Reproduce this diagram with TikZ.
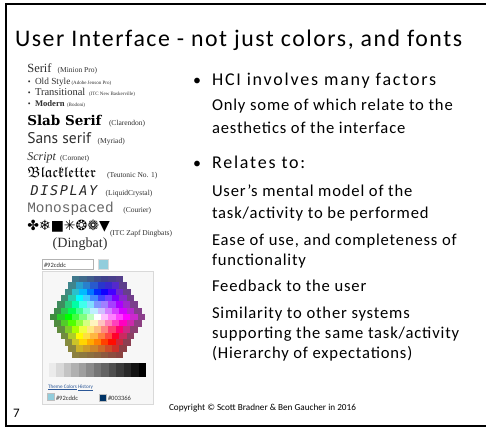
\documentclass[tikz,border=0pt]{standalone}
\usepackage{amsfonts}
\usepackage{fontspec}
\setmainfont{Carlito}
\newfontfamily\titlefont{Carlito}[LetterSpace=6.5]
\newfontfamily\bulletfont{Carlito}[LetterSpace=10]
\newfontfamily\bodyfont{Carlito}[LetterSpace=5]
\newfontfamily\serifsample{Liberation Serif}
\newfontfamily\slabsample{DejaVu Serif}
\newfontfamily\sanssample{PT Sans}
\newfontfamily\monosample{Liberation Mono}
\newfontfamily\lcdsample{DejaVu Sans Mono}[LetterSpace=12]
\newfontfamily\symsample{DejaVu Sans}
\newcommand\fsz[1]{\fontsize{#1}{#1}\selectfont}

\definecolor{pickblue}{HTML}{92CDDC}
\definecolor{picknavy}{HTML}{003366}
\definecolor{linkblue}{HTML}{2B5797}
\definecolor{samplegray}{HTML}{2E2E2E}

\tikzset{
  txt/.style={anchor=base west, inner sep=0pt, outer sep=0pt},
  sample/.style={txt, text=samplegray},
  note/.style={txt, text=samplegray, font=\serifsample\fsz{7.5}},
  tiny/.style={txt, text=samplegray, font=\serifsample\fsz{5}},
  bul/.style={txt, font=\bulletfont\fsz{18}},
  body/.style={txt, font=\bodyfont\fsz{16.6}},
  dot/.style={anchor=base, inner sep=0pt, font=\fsz{16}},
  smalldot/.style={anchor=base, inner sep=0pt, text=samplegray, font=\serifsample\fsz{8}},
  picktext/.style={txt, font=\fsz{6.5}, text=black!80},
  swatch/.style={draw=black!25, minimum width=7pt, minimum height=7pt, anchor=north west, inner sep=0pt},
}

\begin{document}
\begin{tikzpicture}[x=1pt, y=-1pt]
\useasboundingbox (0,0) rectangle (486,430);

% slide frame
\draw[line width=2pt] (490,4) -- (6,4) -- (6,426) -- (490,426);

% title
\node[txt, font=\titlefont\fsz{23.8}] (title) at (15,46.7) {User Interface - not just colors, and fonts};

% ---- type samples ----
\node[sample, font=\serifsample\fsz{12.5}] (serif) at (27.3,72.7) {Serif};
\node[note] (serifn) at (57.7,72.7) {(Minion Pro)};
\node[smalldot] (d1) at (29.3,84.3) {•};
\node[sample, font=\serifsample\fsz{9.3}] (old) at (35,84.3) {Old Style};
\node[tiny] (oldn) at (71.5,84.3) {(Adobe Jenson Pro)};
\node[smalldot] (d2) at (29.3,95.7) {•};
\node[sample, font=\serifsample\fsz{10.5}] (trans) at (35,95.7) {Transitional};
\node[tiny] (transn) at (89,95.7) {(ITC New Baskerville)};
\node[smalldot] (d3) at (29.3,106.7) {•};
\node[sample, font=\serifsample\bfseries\fsz{8.6}] (modern) at (35,106.7) {Modern};
\node[tiny] (modernn) at (67,106.7) {(Bodoni)};
\node[sample, text=black, font=\slabsample\bfseries\fsz{13.5}] (slab) at (27.3,126) {Slab Serif};
\node[note] (slabn) at (109,126) {(Clarendon)};
\node[sample, font=\sanssample\fsz{15.5}] (sans) at (27.3,143.3) {Sans serif};
\node[note] (sansn) at (97.7,143.3) {(Myriad)};
\node[sample, font=\serifsample\itshape\fsz{12}] (script) at (27.3,160.7) {Script};
\node[note] (scriptn) at (60,160.7) {(Coronet)};
\node[sample, text=black, font=\fsz{15}] (black) at (27.3,177.3) {$\mathfrak{Blackletter}$};
\node[note] (blackn) at (107,177.3) {(Teutonic No. 1)};
\node[sample, text=black!85, font=\lcdsample\itshape\fsz{13.5}] (lcd) at (30.7,195) {DISPLAY};
\node[note] (lcdn) at (105.7,195) {(LiquidCrystal)};
\node[sample, text=black!60, font=\monosample\fsz{14.4}] (mono) at (27.3,212.7) {Monospaced};
\node[note] (monon) at (123.3,212.7) {(Courier)};
\node[sample, text=black, font=\symsample\fsz{14}] (ding) at (27.3,230) {✤❄■✳❂❁▼};
\node[note] (dingn) at (110,235) {(ITC Zapf Dingbats)};
\node[sample, font=\serifsample\fsz{14.1}] (dingw) at (52.7,247) {(Dingbat)};

% ---- colour picker ----
\node[draw=black!30, fill=white, minimum width=51pt, minimum height=10pt, anchor=north west, inner sep=0pt] (hexbox) at (42,259) {};
\node[picktext] (hextxt) at (44,267) {\#92cddc};
\node[draw=black!15, fill=pickblue, minimum width=10pt, minimum height=10pt, anchor=north west, inner sep=0pt] (cur) at (98,259) {};
\node[draw=black!15, fill=black!3, minimum width=111pt, minimum height=133pt, anchor=north west, inner sep=0pt] (panel) at (42,271) {};

% honeycomb of colour cells
\def\cw{7.3}\def\rh{6.3}
\foreach \r in {0,...,12}{
  \pgfmathtruncatemacro\n{13-abs(\r-6)}
  \foreach \c in {1,...,\n}{
    \pgfmathsetmacro\dx{\c-1-(\n-1)/2}
    \pgfmathsetmacro\dy{\r-6}
    \pgfmathtruncatemacro\d{round(max(abs(\dy),abs(\dx)+abs(\dy)/2))}
    \pgfmathsetmacro\ang{atan2(-\dy*0.866,\dx)}
    \pgfmathsetmacro\a{mod(\ang+720,360)}
    \pgfmathtruncatemacro\k{min(floor(\a/45),7)}
    \pgfmathsetmacro\f{(\a-45*\k)/45}
    \pgfmathsetmacro\hA{{300,270,230,180,120,60,30,-10,-60}[\k]}
    \pgfmathsetmacro\hB{{300,270,230,180,120,60,30,-10,-60}[\k+1]}
    \pgfmathtruncatemacro\hue{mod(\hA+(\hB-\hA)*\f+720,360)}
    \definecolor{hx}{Hsb}{\hue,1,1}
    \ifnum\d<5
      \pgfmathtruncatemacro\p{\d*25}
      \colorlet{cell}{hx!\p!white}
    \else
      \ifnum\d=5 \colorlet{cell}{hx!80!black}\else\colorlet{cell}{hx!55!black}\fi
    \fi
    \pgfmathsetmacro\xl{97.5+(\dx-0.5)*\cw}
    \pgfmathsetmacro\yt{276+\r*\rh}
    \fill[cell] (\xl,\yt) rectangle ++(\cw+0.2,\rh+0.2);
  }
}

% grey scale strip
\foreach \g in {0,...,12}{
  \pgfmathtruncatemacro\p{8+\g*92/12}
  \fill[black!\p] ({49+\g*7.46},363) rectangle ++(7.66,14);
}

\node[txt, font=\fsz{5.2}, text=linkblue] (theme) at (48,388) {\underline{Theme Colors}};
\node[txt, font=\fsz{5.2}, text=linkblue] (hist) at (78,388) {\underline{History}};
\node[swatch, fill=pickblue] (sw1) at (47,393) {};
\node[picktext] (sw1t) at (56,400) {\#92cddc};
\node[swatch, fill=picknavy] (sw2) at (99,394) {};
\node[picktext] (sw2t) at (108,400.5) {\#003366};

% ---- bullet text ----
\node[dot] (b1) at (197,86) {•};
\node[bul] (hci) at (212,86) {HCI involves many factors};
\node[body] (l1) at (212,110.7) {Only some of which relate to the};
\node[body] (l2) at (212,134) {aesthetics of the interface};
\node[dot] (b2) at (197,168) {•};
\node[bul] (rel) at (212,168) {Relates to:};
\node[body] (l3) at (212,196.7) {User’s mental model of the};
\node[body] (l4) at (212,218.7) {task/activity to be performed};
\node[body] (l5) at (212,245) {Ease of use, and completeness of};
\node[body] (l6) at (212,265) {functionality};
\node[body] (l7) at (212,291.7) {Feedback to the user};
\node[body] (l8) at (212,318) {Similarity to other systems};
\node[body] (l9) at (212,338) {supporting the same task/activity};
\node[body] (l10) at (212,358) {(Hierarchy of expectations)};

% footer
\node[txt, font=\fsz{13}] (pg) at (13,417) {7};
\node[txt, font=\fsz{9.2}] (copy) at (169,410) {Copyright © Scott Bradner \& Ben Gaucher in 2016};
\end{tikzpicture}
\end{document}
